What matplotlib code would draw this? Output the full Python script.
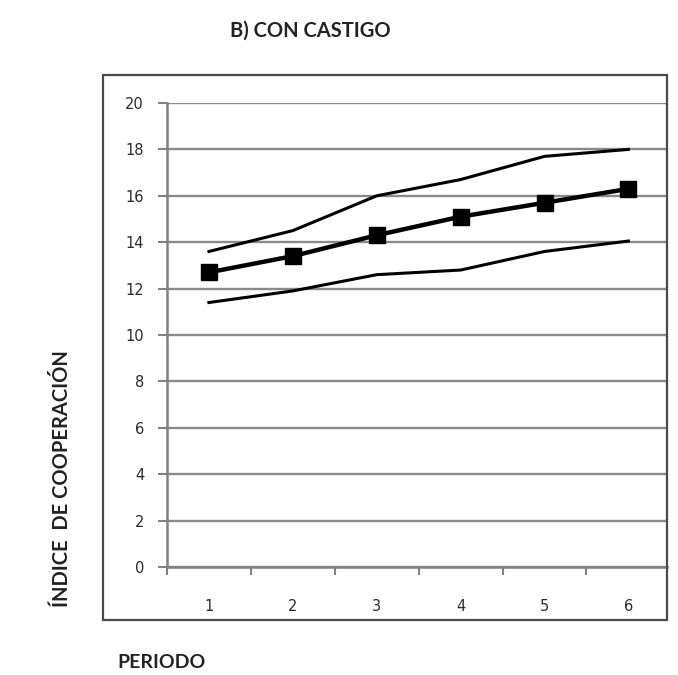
import matplotlib
matplotlib.use("Agg")
import matplotlib.pyplot as plt
from matplotlib.patches import Rectangle

periodos = [1, 2, 3, 4, 5, 6]
media = [12.7, 13.4, 14.3, 15.1, 15.7, 16.3]
superior = [13.6, 14.5, 16.0, 16.7, 17.7, 18.0]
inferior = [11.4, 11.9, 12.6, 12.8, 13.6, 14.05]
yticks = [0, 2, 4, 6, 8, 10, 12, 14, 16, 18, 20]

W, H = 678, 675
fig = plt.figure(figsize=(W / 100, H / 100), dpi=100)

# marco exterior del grafico
fig.patches.append(Rectangle((103 / W, 1 - 620 / H), (667 - 103) / W, (620 - 75) / H,
                             transform=fig.transFigure, fill=False,
                             edgecolor="#4a4a4a", linewidth=1.6))

ax = fig.add_axes([167 / W, 1 - 567 / H, (667 - 167) / W, (567 - 103) / H])
ax.set_xlim(0.5, 6.46)
ax.set_ylim(0, 20)

for s in ["top", "right"]:
    ax.spines[s].set_visible(False)
ax.spines["left"].set_color("#808080")
ax.spines["left"].set_linewidth(1.8)
ax.spines["bottom"].set_color("#808080")
ax.spines["bottom"].set_linewidth(1.8)

ax.set_yticks(yticks)
ax.yaxis.grid(True, color="#8a8a8a", linewidth=1.7)
ax.set_axisbelow(True)
ax.tick_params(axis="y", length=6.5, width=1.5, color="#808080", pad=10,
               labelsize=10.5, labelcolor="#2a2a2a")

ax.set_xticks(periodos)
ax.set_xticks([p + 0.5 for p in [0] + periodos[:-1]], minor=True)
ax.tick_params(axis="x", which="major", length=0, pad=23,
               labelsize=10.5, labelcolor="#2a2a2a")
ax.tick_params(axis="x", which="minor", length=6, width=1.5, color="#808080")

ax.plot(periodos, superior, color="black", linewidth=2.2)
ax.plot(periodos, inferior, color="black", linewidth=2.2)
ax.plot(periodos, media, color="black", linewidth=3.2, marker="s",
        markersize=12)

fig.text(310 / W, 1 - 31 / H, "B) CON CASTIGO", ha="center", va="center",
         fontsize=14.5, fontweight="bold", family="Lato", color="#222222")
fig.text(62 / W, 1 - 479 / H, "ÍNDICE  DE COOPERACIÓN", ha="center", va="center",
         rotation=90, fontsize=14.5, fontweight="bold", family="Lato", color="#222222")
fig.text(117 / W, 1 - 663 / H, "PERIODO", ha="left", va="center",
         fontsize=14, fontweight="bold", family="Lato", color="#222222")

fig.savefig("out.png", dpi=100, facecolor="white")
